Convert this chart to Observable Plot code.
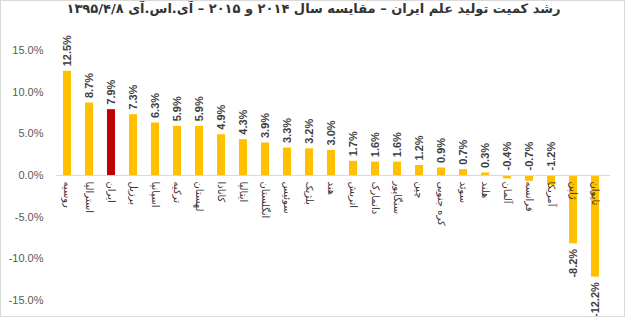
<!DOCTYPE html>
<html><head><meta charset="utf-8">
<script src="https://cdn.jsdelivr.net/npm/d3@7"></script>
<script src="https://cdn.jsdelivr.net/npm/@observablehq/plot@0.6"></script>
<style>
body{margin:0;background:#fff;}
#wrap{width:625px;height:317px;box-sizing:border-box;border:1px solid #d9d9d9;position:relative;overflow:hidden;}
#title{height:33px;line-height:38px;text-align:center;font:bold 13px "DejaVu Sans",sans-serif;color:#333;direction:rtl;padding-left:2px;}
#chart svg{display:block;}
</style></head>
<body><div id="wrap"><div id="title"></div><div id="chart"></div></div>
<script>
const titleText = "رشد کمیت تولید علم ایران – مقایسه سال ۲۰۱۴ و ۲۰۱۵ – آی.اس.آی ۱۳۹۵/۴/۸";
const countries = ["روسیه","استرالیا","ایران","برزیل","اسپانیا","ترکیه","لهستان","کانادا","ایتالیا","انگلستان","سوئیس","بلژیک","هند","اتریش","دانمارک","سنگاپور","چین","کره جنوبی","سوئد","هلند","آلمان","فرانسه","آمریکا","ژاپن","تایوان"];
const growth = [12.5,8.7,7.9,7.3,6.3,5.9,5.9,4.9,4.3,3.9,3.3,3.2,3.0,1.7,1.6,1.6,1.2,0.9,0.7,0.3,-0.4,-0.7,-1.2,-8.2,-12.2];
const highlight = "ایران";
const yTicks = [-15,-10,-5,0,5,10,15];

document.getElementById("title").textContent = titleText;
const data = countries.map((c,i)=>({country:c, value:growth[i]}));
const fmt = v => v.toFixed(1) + "%";
const small = d => d.value > -5;

const chart = Plot.plot({
  width: 623, height: 282,
  marginLeft: 55, marginRight: 14, marginTop: 16, marginBottom: 16,
  style: {fontFamily: "'Liberation Sans', Arial, sans-serif", background: "#fff"},
  x: {type: "band", domain: countries, range: [58, 601], paddingInner: 0.64, paddingOuter: 0, axis: null},
  y: {domain: [-15, 15], ticks: yTicks, tickFormat: fmt, label: null, tickSize: 0, tickPadding: 13},
  marks: [
    Plot.axisY({ticks: yTicks, tickFormat: fmt, tickSize: 0, tickPadding: 13, fontSize: 11, color: "#595959", label: null}),
    Plot.barY(data, {x: "country", y: "value", fill: d => d.country === highlight ? "#C00000" : "#FFC000"}),
    Plot.ruleY([0], {stroke: "#d9d9d9", strokeWidth: 1}),
    Plot.text(data, {x: "country", y: 0, text: "country", rotate: 90, textAnchor: "start", dy: 6, fontSize: 10, fill: "#333", fontFamily: "'DejaVu Sans', sans-serif"}),
    Plot.text(data.filter(small), {x: "country", y: d => Math.max(d.value, 0), text: d => fmt(d.value), rotate: -90, textAnchor: "start", dy: -5, fontSize: 11, fontWeight: "bold", fill: "#404040"}),
    Plot.text(data.filter(d => !small(d)), {x: "country", y: "value", text: d => fmt(d.value), rotate: -90, textAnchor: "end", dy: 5, fontSize: 11, fontWeight: "bold", fill: "#404040"})
  ]
});
document.getElementById("chart").appendChild(chart);
</script>
</body></html>
